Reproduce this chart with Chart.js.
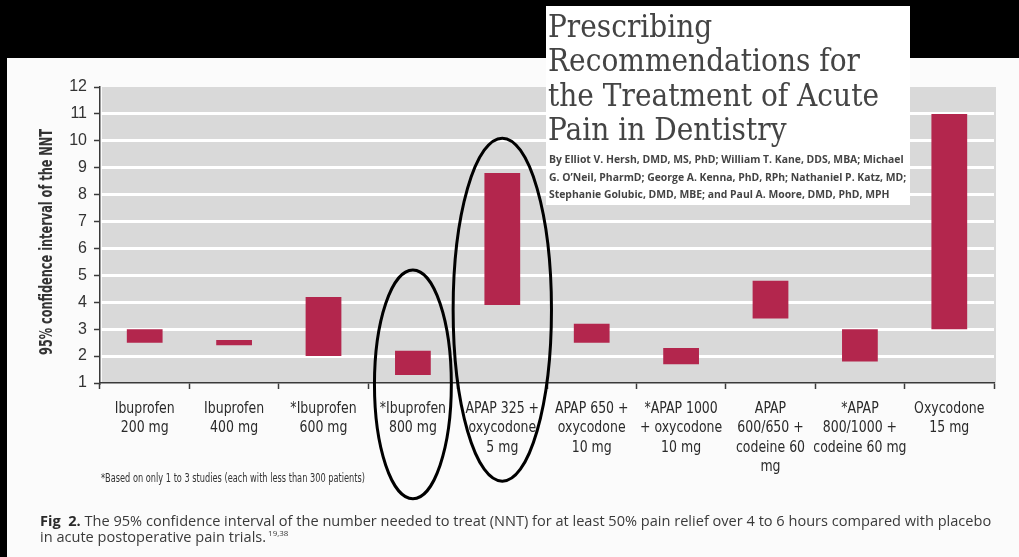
<!DOCTYPE html>
<html>
<head>
<meta charset="utf-8">
<script src="https://cdn.jsdelivr.net/npm/chart.js@4.4.1/dist/chart.umd.min.js"></script>
<style>
  html, body { margin: 0; padding: 0; background: #fbfbfb; }
  #wrap { width: 1019px; height: 557px; position: relative; }
</style>
</head>
<body>
<div id="wrap"><canvas id="nntChart"></canvas></div>
<script>
// NNT confidence intervals per analgesic regimen
const drugLabels = [
  ['Ibuprofen', '200 mg'],
  ['Ibuprofen', '400 mg'],
  ['*Ibuprofen', '600 mg'],
  ['*Ibuprofen', '800 mg'],
  ['APAP 325 +', 'oxycodone', '5 mg'],
  ['APAP 650 +', 'oxycodone', '10 mg'],
  ['*APAP 1000', '+ oxycodone', '10 mg'],
  ['APAP', '600/650 +', 'codeine 60', 'mg'],
  ['*APAP', '800/1000 +', 'codeine 60 mg'],
  ['Oxycodone', '15 mg']
];
const nntLow  = [2.5, 2.4, 2.0, 1.3, 3.9, 2.5, 1.7, 3.4, 1.8, 3.0];
const nntHigh = [3.0, 2.6, 4.2, 2.2, 8.8, 3.2, 2.3, 4.8, 3.0, 11.0];
const yMin = 1;
const yMax = 12;
const yTitle = '95% confidence interval of the NNT';

const titleLines = ['Prescribing', 'Recommendations for', 'the Treatment of Acute', 'Pain in Dentistry'];
const bylineLines = [
  'By Elliot V. Hersh, DMD, MS, PhD; William T. Kane, DDS, MBA; Michael',
  'G. O\u2019Neil, PharmD; George A. Kenna, PhD, RPh; Nathaniel P. Katz, MD;',
  'Stephanie Golubic, DMD, MBE; and Paul A. Moore, DMD, PhD, MPH'
];
const footnote = '*Based on only 1 to 3 studies (each with less than 300 patients)';
const captionBold = 'Fig  2.';
const captionLine1 = ' The 95% confidence interval of the number needed to treat (NNT) for at least 50% pain relief over 4 to 6 hours compared with placebo';
const captionLine2 = 'in acute postoperative pain trials.';
const captionRefs = '19,38';

// hand-drawn rings around two of the bars (category index, half width in categories, value span)
const rings = [
  { index: 3, half: 0.43, from: -3.3, to: 5.2 },
  { index: 4, half: 0.55, from: -2.65, to: 10.1 }
];

const narrow = "'DejaVu Sans Condensed', 'DejaVu Sans', sans-serif";
const sans = "'Open Sans', 'DejaVu Sans', sans-serif";
const serif = "'DejaVu Serif', serif";

// pick a font size so that text spans the given width
function fitFont(ctx, text, weight, family, width) {
  ctx.font = weight + ' 100px ' + family;
  return 100 * width / ctx.measureText(text).width;
}

// draw text scaled horizontally by k
function scaledText(ctx, text, x, y, k, align) {
  ctx.save();
  ctx.translate(x, y);
  ctx.scale(k, 1);
  ctx.textAlign = align || 'left';
  ctx.fillText(text, 0, 0);
  ctx.restore();
}

// draw text squeezed horizontally so it spans the given width
function squeezedText(ctx, text, x, y, width, align) {
  scaledText(ctx, text, x, y, width / ctx.measureText(text).width, align);
}

const pagePlugin = {
  id: 'page',
  beforeDraw(chart) {
    const ctx = chart.ctx, a = chart.chartArea;
    ctx.save();
    ctx.fillStyle = '#fbfbfb';
    ctx.fillRect(0, 0, chart.width, chart.height);
    ctx.fillStyle = '#d9d9d9';
    ctx.fillRect(a.left + 2, a.top, a.right - a.left, a.bottom - a.top);
    ctx.restore();
  },
  afterDraw(chart) {
    const ctx = chart.ctx;
    const x = chart.scales.x, y = chart.scales.y;
    ctx.save();
    ctx.textBaseline = 'alphabetic';

    // category labels in a condensed face
    ctx.fillStyle = '#2a2a2a';
    ctx.font = 'normal 15.5px ' + narrow;
    const squeeze = 60 / ctx.measureText('Ibuprofen').width;
    drugLabels.forEach((lines, i) => {
      const cx = x.getPixelForTick(i);
      lines.forEach((t, j) => scaledText(ctx, t, cx, 413 + j * 19.4, squeeze, 'center'));
    });

    // vertical axis title
    ctx.save();
    ctx.translate(47, (y.top + y.bottom) / 2 + 7);
    ctx.rotate(-Math.PI / 2);
    ctx.font = 'bold 18px ' + narrow;
    ctx.fillStyle = '#333';
    ctx.textBaseline = 'middle';
    squeezedText(ctx, yTitle, 0, 0, 226, 'center');
    ctx.restore();

    // footnote under the axis labels
    ctx.fillStyle = '#333';
    ctx.font = 'normal 12.5px ' + narrow;
    squeezedText(ctx, footnote, 101, 482, 264, 'left');

    // figure caption
    ctx.font = 'bold 100px ' + sans;
    const wb = ctx.measureText(captionBold).width;
    ctx.font = 'normal 100px ' + sans;
    const wr = ctx.measureText(captionLine1).width;
    let fs = 100 * 952 / (wb + wr);
    ctx.fillStyle = '#2a2a2a';
    ctx.font = 'bold ' + fs + 'px ' + sans;
    ctx.fillText(captionBold, 40, 526);
    ctx.fillStyle = '#3a3a3a';
    ctx.font = 'normal ' + fs + 'px ' + sans;
    ctx.fillText(captionLine1, 40 + wb * fs / 100, 526);
    ctx.fillText(captionLine2, 40, 542);
    const w2 = ctx.measureText(captionLine2).width;
    ctx.font = 'normal ' + (fs * 0.55) + 'px ' + sans;
    ctx.fillText(captionRefs, 42 + w2, 536);

    // black frame
    ctx.fillStyle = '#000';
    ctx.fillRect(0, 0, chart.width, 58);
    ctx.fillRect(0, 0, 7, chart.height);

    // article title box
    ctx.fillStyle = '#fff';
    ctx.fillRect(546, 6, 364, 199);
    ctx.font = 'normal 31px ' + serif;
    ctx.fillStyle = '#444';
    const tk = 331 / ctx.measureText(titleLines[2]).width;
    titleLines.forEach((t, i) => scaledText(ctx, t, 548, 37 + i * 34.3, tk, 'left'));
    fs = fitFont(ctx, bylineLines[0], 'bold', sans, 355);
    ctx.font = 'bold ' + fs + 'px ' + sans;
    ctx.fillStyle = '#444';
    bylineLines.forEach((t, i) => ctx.fillText(t, 549, 163 + i * 17.5));

    // rings
    ctx.strokeStyle = '#000';
    ctx.lineWidth = 3;
    const cw = x.getPixelForValue(1) - x.getPixelForValue(0);
    rings.forEach(r => {
      const cx = x.getPixelForValue(r.index);
      const top = y.getPixelForValue(r.to), bot = y.getPixelForValue(r.from);
      ctx.beginPath();
      ctx.ellipse(cx, (top + bot) / 2, r.half * cw, (bot - top) / 2, 0, 0, Math.PI * 2);
      ctx.stroke();
    });
    ctx.restore();
  }
};

const data = {
  labels: drugLabels,
  datasets: [{
    data: nntLow.map((lo, i) => [lo, nntHigh[i]]),
    backgroundColor: '#b3264d',
    borderWidth: 0,
    barPercentage: 0.4,
    categoryPercentage: 1.0
  }]
};

const config = {
  type: 'bar',
  data,
  plugins: [pagePlugin],
  options: {
    responsive: true,
    maintainAspectRatio: false,
    animation: false,
    layout: { padding: { top: 87, left: 7, right: 25, bottom: 74 } },
    plugins: {
      legend: { display: false },
      tooltip: { enabled: false }
    },
    scales: {
      x: {
        afterFit: s => { s.height = 100; },
        border: { color: '#3a3a3a', width: 1.5 },
        grid: {
          offset: true,
          drawOnChartArea: false,
          tickColor: '#3a3a3a',
          tickLength: 6,
          tickWidth: 1.5
        },
        ticks: { display: false, autoSkip: false, maxRotation: 0 }
      },
      y: {
        min: yMin,
        max: yMax,
        afterFit: s => { s.width = 93; },
        border: { color: '#3a3a3a', width: 1.5 },
        grid: {
          color: c => (c.tick && (c.tick.value === yMin || c.tick.value === yMax)) ? 'rgba(0,0,0,0)' : '#ffffff',
          lineWidth: 3,
          tickColor: '#3a3a3a',
          tickLength: 6,
          tickWidth: 1.5
        },
        ticks: {
          stepSize: 1,
          padding: 7,
          color: '#333',
          font: { family: "'Liberation Sans', Arial, sans-serif", size: 16 }
        }
      }
    }
  }
};

const nntChart = new Chart(document.getElementById('nntChart'), config);
</script>
</body>
</html>
